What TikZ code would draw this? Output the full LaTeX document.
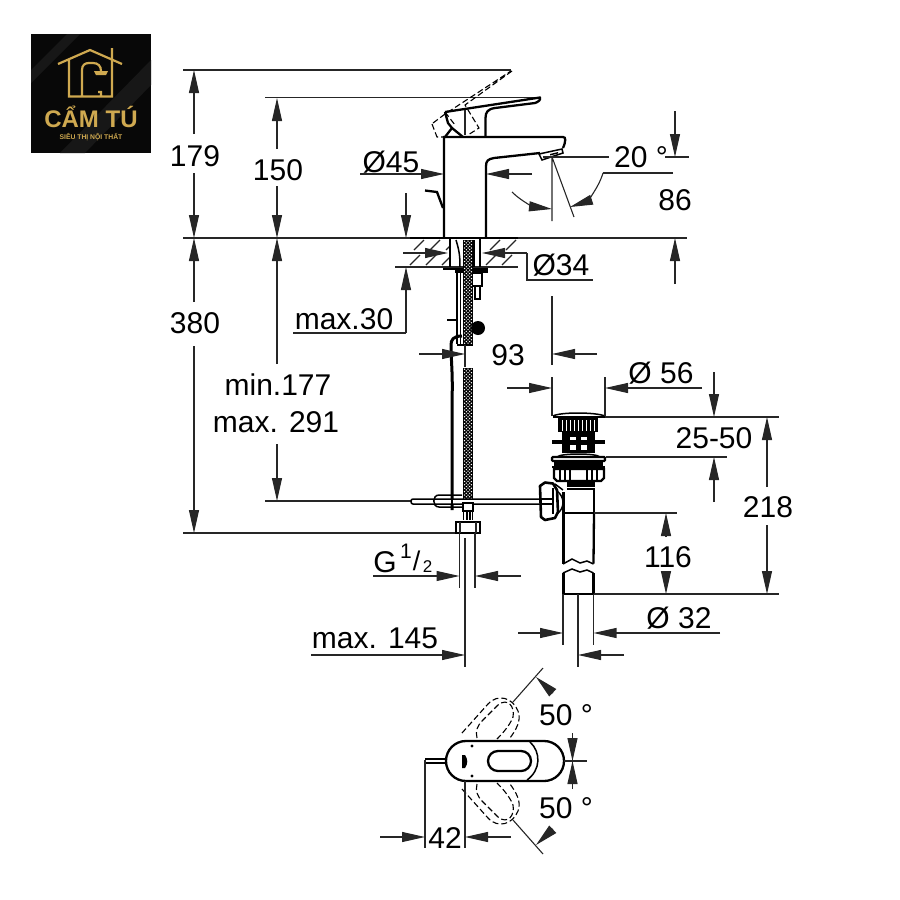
\documentclass[tikz,border=0pt]{standalone}
\usepackage{fontspec}
\setmainfont{Liberation Sans}
\usetikzlibrary{arrows.meta}
\definecolor{logogold}{HTML}{CFA950}
\tikzset{
    dimline/.style={line width=1.1pt, black!85}, % extension and leader lines
    dimarrow/.style={dimline, -{Stealth[length=23pt, width=10pt, inset=0pt]}}, % long narrow heads
    outline/.style={line width=1.5pt},
    thickline/.style={line width=2.3pt},
    dashline/.style={line width=1.1pt, dash pattern=on 6pt off 3pt},
    dimtext/.style={font=\fontsize{30}{32}\selectfont, anchor=base, inner sep=0pt},
    logotext/.style={text=logogold, inner sep=0pt, anchor=base},
}
% braided hose: black strip with staggered white dots
\newcommand{\braidhose}[2]{
    \fill (463,#1) rectangle (472.5,#1+1.7*#2+1);
    \foreach \rownum in {1,...,#2} {
        \pgfmathsetmacro{\ypos}{#1+1.7*\rownum-0.5}
        \ifodd\rownum
            \foreach \xpos in {464.6,468,471.4} {\fill[white] (\xpos,\ypos) circle (0.75);}
        \else
            \foreach \xpos in {466.3,469.7} {\fill[white] (\xpos,\ypos) circle (0.75);}
        \fi
    }
}
\begin{document}
\begin{tikzpicture}[x=1pt, y=-1pt]
    \useasboundingbox (0,0) rectangle (900,900);

    % logo
    \fill[black!97] (31,34) rectangle (151,153);
    \begin{scope}
        \clip (31,34) rectangle (151,153);
        \fill[black!91] (60,153) -- (151,60) -- (151,85) -- (85,153) -- cycle;
        \fill[black!91] (31,70) -- (67,34) -- (80,34) -- (31,83) -- cycle;
    \end{scope}
    \draw[logogold, line width=2.2pt, line join=miter]
        (58,64) -- (90,50) -- (122,64)
        (69,60) -- (69,96.5) -- (112,96.5) -- (112,48)
        (82,96.5) -- (82,70) .. controls (82,65) and (85,63) .. (89,63) -- (93,63) .. controls (98,63) and (101,66) .. (101,71)
        (98,92) -- (101,92) -- (101,96.5);
    \fill[logogold] (94,71) -- (108,71) -- (106,75) -- (96,75) -- cycle;
    \node[logotext, font=\bfseries\fontsize{24}{26}\selectfont] (logoname) at (91,127) {CẨM TÚ};
    \node[logotext, font=\bfseries\fontsize{6.8}{8}\selectfont] (logosub) at (91,139.5) {SIÊU THỊ NỘI THẤT};

    % extension lines
    \draw[dimline, line width=1.4pt] (183,70) -- (511,70);
    \draw[dimline] (265,97.5) -- (540,97.5);
    \draw[dimline] (183,238) -- (687,238);
    \draw[dimline] (183,533) -- (458,533);
    \draw[dimline] (265,501) -- (411,501);

    % tap body
    \draw[thickline] (444,238) -- (444,137) -- (563,137) .. controls (566,137) and (566,141) .. (563,148);
    \draw[thickline] (486,238) -- (486,166) .. controls (486,161) and (488,159) .. (494,158) -- (540,153);
    \draw[outline, fill=white] (539,154) -- (562,149) -- (563,153) -- (542,160) -- cycle;
    \fill (550,154) -- (558,152) -- (558,153.5) -- (550,155.5) -- cycle;
    \draw[thickline, line join=round] (445,112) -- (540,97.5) .. controls (541,100) and (538,102) .. (535,103) -- (495,108) .. controls (488,109) and (485.5,112) .. (485.5,118) -- (485.5,137);
    \draw[thickline, line join=round] (445,112) -- (448,123) -- (452,128) -- (445,137);
    \draw[thickline] (452,128) -- (463,137);
    \draw[dimline] (465,110) -- (465,135);
    \draw[dashline] (432,124) -- (437,137) -- (450,137)
        (433,123) -- (445,114) -- (511,71)
        (512,71) -- (465,105) -- (479,128) -- (468,135)
        (445,112) -- (455,125);
    \draw[thickline] (425,190.5) -- (437,192) -- (443,208);

    % counter top
    \draw[outline] (410,238) -- (518,238);
    \draw[dimline] (395,267) -- (518,267);
    \foreach \xpos in {414,430,446,490,506} {
        \draw[dimline] (\xpos,250) -- (\xpos+10,240);
        \draw[dimline] (\xpos-4,265) -- (\xpos+6,255);
    }

    % shank and hoses
    \fill[white] (449,239) rectangle (481,266);
    \draw[thickline] (450,238) -- (450,267) (480,238) -- (480,267);
    \draw[thickline] (474,240) -- (474,267);
    \draw[outline] (456,240) .. controls (459,250) and (460,255) .. (460,267);
    \draw[thickline] (443,269) -- (488,269);
    \fill (455,270) rectangle (488,273);
    \draw[outline] (457,272) -- (457,344) (460.5,272) -- (460.5,344);
    \braidhose{240}{62}
    \draw[outline] (457,345) -- (472,345);
    \draw[outline] (472,273) -- (482,273) -- (482,286) -- (472,286);
    \draw[outline] (475,286) rectangle (480,299);
    \fill (478,328) circle (7);
    \draw[thickline] (447,320) -- (458,320);
    \draw[line width=3pt] (452,510) -- (452,400) .. controls (453,375) and (451,360) .. (451,345) .. controls (451,340) and (453,336) .. (462,336);
    \braidhose{368}{79}

    % waste rod and clip
    \draw[outline, rounded corners=2pt, fill=white] (411,499) -- (550,499) -- (550,504) -- (411,504) -- cycle;
    \draw[outline] (462,495) -- (439,495) .. controls (432,495) and (432,507) .. (439,507) -- (462,507);
    \draw[thickline] (452,510) -- (452,490);
    % hose connector
    \draw[outline, fill=white] (463,503) rectangle (473,511);
    \draw[outline] (463.5,511) -- (463.5,520) (467,511) -- (467,520) (470,511) -- (470,520) (472.5,511) -- (472.5,520);
    \draw[outline, fill=white] (456,522) rectangle (480,533);
    \draw[dimline] (460,522) -- (460,533) (476,522) -- (476,533);

    % pop-up waste
    \draw[outline] (553,416) .. controls (560,412) and (595,412) .. (605,416);
    \draw[thickline] (553,417) -- (605,417);
    \fill (558,418) rectangle (598,432);
    \foreach \xpos in {562,566,...,594} {
        \draw[white, line width=1pt] (\xpos,420) -- (\xpos,431);
    }
    \fill (562,432) rectangle (595,453);
    \foreach \xpos/\ypos in {570/437, 581/437, 570/445, 581/445} {
        \fill[white] (\xpos,\ypos) rectangle (\xpos+6,\ypos+5);
    }
    \draw[line width=3.5pt] (552,442) -- (605,442);
    \draw[outline] (557,457) .. controls (560,453) and (597,453) .. (600,457);
    \draw[thickline, fill=white, rounded corners=1pt] (552,457) rectangle (605,461);
    \fill (554,461) rectangle (603,467);
    \draw[thickline, rounded corners=1pt] (552,467) -- (605,467);
    \draw[thickline, fill=white] (554,469) -- (604,469) -- (604,478) -- (601,481) -- (557,481) -- (554,478) -- cycle;
    \foreach \xpos in {560,565,570,587,592,597} {
        \draw[outline] (\xpos,470) -- (\xpos,480);
    }
    \fill (567,481) rectangle (595,486.5);
    \draw[thickline] (563.5,492) -- (563.5,563.5) (594,488) -- (594,513);
    \draw[thickline] (594,513) -- (593.5,563.5);
    \draw[outline] (567,489) -- (594,489);
    \draw[outline] (563,564) -- (572,559) -- (580,563) -- (587,561) -- (593.5,564);
    \draw[outline] (563,573) -- (572,569) -- (580,572) -- (587,570) -- (593.5,573);
    \draw[thickline] (563.5,573) -- (563.5,594) (593.5,573) -- (593.5,594);
    \draw[thickline] (563,594) -- (594,594);
    \draw[outline] (563,513) -- (594,513);
    \draw[dimline] (594,513) -- (677,513);
    % waste knob
    \draw[line width=2.6pt, fill=white, line join=round] (540,486) -- (545,482.5) -- (553,483.5) -- (557,490) -- (558,512) -- (555,518) -- (545,520) -- (541,517) -- cycle;
    \draw[outline] (553,488) -- (553,514);
    \draw[outline] (557,491) .. controls (565,497) and (565,508) .. (557,514);
    \draw[outline] (555,484) -- (563,490);
    \draw[outline] (540,499) -- (553,499) (540,504) -- (553,504);

    % overall heights
    \draw[dimarrow] (194,134) -- (194,70);
    \draw[dimarrow] (194,173) -- (194,238);
    \draw[dimarrow] (194,302) -- (194,238);
    \draw[dimarrow] (194,346) -- (194,533);
    \draw[dimarrow] (277,149) -- (277,98);
    \draw[dimarrow] (277,186) -- (277,238);
    \draw[dimarrow] (277,364) -- (277,238);
    \draw[dimarrow] (277,444) -- (277,501);
    \node[dimtext] (lbl179) at (195,166) {179};
    \node[dimtext] (lbl150) at (278,180) {150};
    \node[dimtext] (lbl380) at (195,333) {380};
    \node[dimtext] (lblmin) at (278,395) {min.177};
    \node[dimtext] (lblmax) at (276,432) {max. 291};

    % tap dimensions
    \draw[dimarrow] (360,174) -- (444,174);
    \draw[dimarrow] (532,174) -- (486,174);
    \node[dimtext] (lbl45) at (391,172) {Ø45};
    \draw[dimarrow] (406,193) -- (406,238);
    \draw[dimarrow] (406,333) -- (406,267);
    \draw[dimline] (293,333) -- (406,333);
    \node[dimtext] (lbl30) at (344,329) {max.30};
    \draw[dimarrow] (403,253) -- (448,253);
    \draw[dimarrow] (527,253) -- (482,253);
    \draw[dimline] (527,253) -- (527,280) -- (593,280);
    \node[dimtext] (lbl34) at (561,275) {Ø34};

    % spout angle
    \draw[dimline] (543,157) -- (609,157) (665,157) -- (689,157);
    \draw[dimarrow] (675,111) -- (675,157);
    \draw[dimline] (552,157) -- (552,221) (552,157) -- (574,217);
    \draw[dimline] (673,173) -- (603,173);
    \draw[dimarrow] (603,173) .. controls (598,190) and (585,202) .. (570,207);
    \draw[dimarrow] (512,192) .. controls (522,202) and (535,207) .. (552,209);
    \node[dimtext] (lbl20) at (641,167) {20 °};
    \node[dimtext] (lbl86) at (675,210) {86};
    \draw[dimarrow] (675,284) -- (675,238);

    % waste position
    \draw[dimline] (552,296) -- (552,365) (465,345) -- (465,367);
    \draw[dimarrow] (419,354) -- (465,354);
    \draw[dimarrow] (597,354) -- (552,354);
    \node[dimtext] (lbl93) at (508,365) {93};
    \draw[dimline] (552,377) -- (552,416) (605,377) -- (605,416);
    \draw[dimarrow] (507,388) -- (552,388);
    \draw[dimarrow] (702,388) -- (605,388);
    \node[dimtext] (lbl56) at (661,383) {Ø 56};

    % waste dimensions
    \draw[dimline] (605,417) -- (779,417) (606,457) -- (727,457) (594,594) -- (779,594);
    \draw[dimarrow] (714,372) -- (714,417);
    \draw[dimarrow] (714,502) -- (714,457);
    \node[dimtext] (lbl2550) at (714,448) {25-50};
    \draw[dimarrow] (767,487) -- (767,417);
    \draw[dimarrow] (767,525) -- (767,594);
    \node[dimtext] (lbl218) at (768,517) {218};
    \draw[dimarrow] (666,537) -- (666,513);
    \draw[dimarrow] (666,572) -- (666,594);
    \node[dimtext] (lbl116) at (668,567) {116};
    \draw[dimline] (563,594) -- (563,645) (593.5,594) -- (593.5,645) (578,594) -- (578,667);
    \draw[dimarrow] (518,633) -- (563,633);
    \draw[dimarrow] (720,633) -- (593.5,633);
    \draw[dimarrow] (624,655) -- (578,655);
    \node[dimtext] (lbl32) at (679,628) {Ø 32};

    % supply connection
    \draw[dimline] (459.5,533) -- (459.5,588) (475,533) -- (475,588);
    \draw[dimline, line width=1.4pt] (465,538) -- (465,667);
    \draw[dimarrow] (373,576) -- (459.5,576);
    \draw[dimarrow] (521,576) -- (475,576);
    \node[dimtext] (lblG) at (385,572) {G};
    \node[dimtext, font=\fontsize{21}{22}\selectfont] (lblone) at (406,558) {1};
    \node[dimtext, font=\fontsize{27}{28}\selectfont] (lblslash) at (416.5,570) {/};
    \node[dimtext, font=\fontsize{17}{18}\selectfont] (lbltwo) at (427.5,572) {2};
    \draw[dimarrow] (311,655) -- (465,655);
    \node[dimtext] (lbl145) at (375,648) {max. 145};

    % top view, turned handle shown both ways
    \foreach \flip in {1,-1} {
        \begin{scope}[shift={(0,761)}, yscale=\flip]
            \draw[dashline] (462,-28) -- (488,-57) .. controls (498,-68) and (513,-63) .. (518,-50) .. controls (522,-40) and (515,-30) .. (510,-23);
            \draw[dashline] (477,-23) .. controls (475,-30) and (478,-36) .. (482,-40) -- (498,-56) .. controls (508,-64) and (515,-54) .. (513,-44) .. controls (510,-36) and (503,-28) .. (497,-22);
            \draw[dimline] (513,-59) -- (543,-93);
            \draw[dimarrow] (553,-68) -- (536,-84);
            \draw[dimarrow] (572.5,-28) -- (572.5,0);
        \end{scope}
    }
    \draw[thickline, fill=white, rounded corners=19.9pt] (446,741) rectangle (564,781);
    \draw[thickline, rounded corners=9.9pt] (488,751) rectangle (531,771);
    \draw[outline] (530,742) .. controls (541,752) and (541,770) .. (527,780);
    \fill (472,746) circle (1.7) (472,776) circle (1.7);
    \fill (462,755) -- (465,755) .. controls (468,759) and (468,764) .. (465,768) -- (462,768) -- cycle;
    \draw[outline] (425,759) -- (446,759) (425,763) -- (446,763);
    \draw[dimline] (564,761) -- (587,761);
    \draw[dimline] (425,760) -- (425,848) (465,781) -- (465,848);
    \draw[dimarrow] (380,837) -- (425,837);
    \draw[dimarrow] (511,837) -- (465,837);
    \node[dimtext] (lbl42) at (445,848) {42};
    \node[dimtext] (lbl50up) at (566,725) {50 °};
    \node[dimtext] (lbl50dn) at (566,818) {50 °};
\end{tikzpicture}
\end{document}
